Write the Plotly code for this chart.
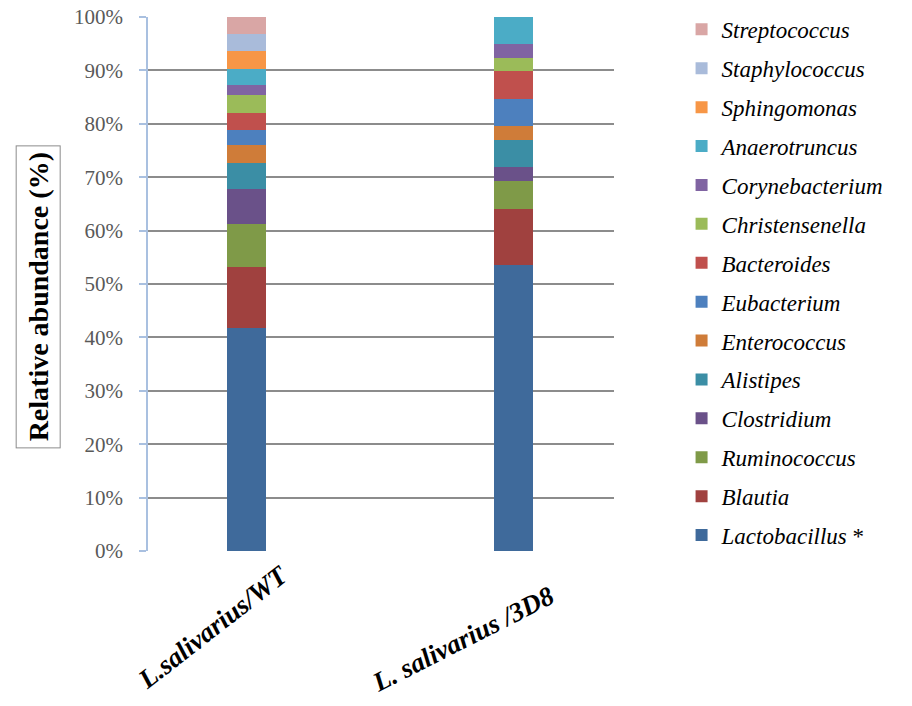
import plotly.graph_objects as go

# Sample groups on the x axis
groups = ["L.salivarius/WT", "L. salivarius /3D8"]

# Genera, bottom of the stack first
genera = [
    "Lactobacillus", "Blautia", "Ruminococcus", "Clostridium", "Alistipes",
    "Enterococcus", "Eubacterium", "Bacteroides", "Christensenella",
    "Corynebacterium", "Anaerotruncus", "Sphingomonas", "Staphylococcus",
    "Streptococcus",
]

# Relative abundance (%) per genus: [WT, 3D8]
lactobacillus = [41.8, 53.6]
blautia = [11.4, 10.5]
ruminococcus = [8.1, 5.2]
clostridium = [6.5, 2.6]
alistipes = [4.8, 5.1]
enterococcus = [3.4, 2.5]
eubacterium = [2.9, 5.2]
bacteroides = [3.2, 5.1]
christensenella = [3.3, 2.5]
corynebacterium = [1.9, 2.6]
anaerotruncus = [3.0, 5.1]
sphingomonas = [3.3, 0.0]
staphylococcus = [3.2, 0.0]
streptococcus = [3.2, 0.0]

series = [
    lactobacillus, blautia, ruminococcus, clostridium, alistipes,
    enterococcus, eubacterium, bacteroides, christensenella,
    corynebacterium, anaerotruncus, sphingomonas, staphylococcus,
    streptococcus,
]

colors = [
    "#3F6A9B", "#A0413F", "#7F9A48", "#6A5189", "#3B8EA5",
    "#CF7C39", "#4D80BE", "#C0504D", "#9BBB59", "#8064A2",
    "#4BACC6", "#F79646", "#A9BBDA", "#D9A6A5",
]

y_ticks = [0, 10, 20, 30, 40, 50, 60, 70, 80, 90, 100]
y_tick_text = [f"{v}%" for v in y_ticks]

serif = "Liberation Serif, Times New Roman, serif"

fig = go.Figure()
n = len(genera)
for i, (name, vals, col) in enumerate(zip(genera, series, colors)):
    label = f"<i>{name}</i>" + (" *" if name == "Lactobacillus" else "")
    fig.add_trace(go.Bar(
        x=groups, y=vals, name=label, marker_color=col,
        marker_line_width=0, width=0.146,
        legendgroup=name, legendrank=n - i,  # top of stack listed first
    ))

fig.update_layout(
    barmode="stack",
    width=912, height=706,
    margin=dict(l=148, r=298, t=17, b=155, autoexpand=False),
    plot_bgcolor="white", paper_bgcolor="white",
    font=dict(family=serif, color="#000000"),
    showlegend=True,
    legend=dict(
        traceorder="grouped",
        x=1.145, xanchor="left", y=1.017, yanchor="top",
        font=dict(family=serif, size=23, color="#000000"),
        tracegroupgap=6, itemwidth=30, maxheight=700,
        bgcolor="rgba(0,0,0,0)",
    ),
)

fig.update_xaxes(
    type="category", range=[-0.3697, 1.375],
    showticklabels=False, ticks="",
    showline=False, showgrid=False,
)
fig.update_yaxes(
    range=[0, 100], tickvals=y_ticks, ticktext=y_tick_text,
    tickfont=dict(family=serif, size=21, color="#595959"),
    showgrid=True, gridcolor="#8C8C8C", gridwidth=1.5,
    zeroline=False,
    showline=True, linecolor="#A9C0E0", linewidth=1.5,
    ticks="outside", ticklen=7, tickcolor="#A9C0E0", tickwidth=1.5,
    ticklabelstandoff=12,
)

# Rotated category labels: (y in paper units, angle, x shift in px)
label_pos = {groups[0]: (-0.01, -38, 50), groups[1]: (-0.05, -27, 48)}
for g in groups:
    ypos, ang, dx = label_pos[g]
    fig.add_annotation(
        x=g, xref="x", xshift=dx, xanchor="right",
        y=ypos, yref="paper", yanchor="top",
        text=f"<b><i>{g}</i></b>", textangle=ang, showarrow=False,
        font=dict(family=serif, size=27, color="#000000"),
    )

# Boxed y-axis title
fig.add_annotation(
    x=-0.236, xref="paper", xanchor="center",
    y=0.475, yref="paper", yanchor="middle",
    text="<b>Relative abundance (%)</b>", textangle=-90, showarrow=False,
    font=dict(family=serif, size=28, color="#000000"),
    bordercolor="#8C8C8C", borderwidth=1, borderpad=6, bgcolor="white",
)

fig.write_html("out.html")
